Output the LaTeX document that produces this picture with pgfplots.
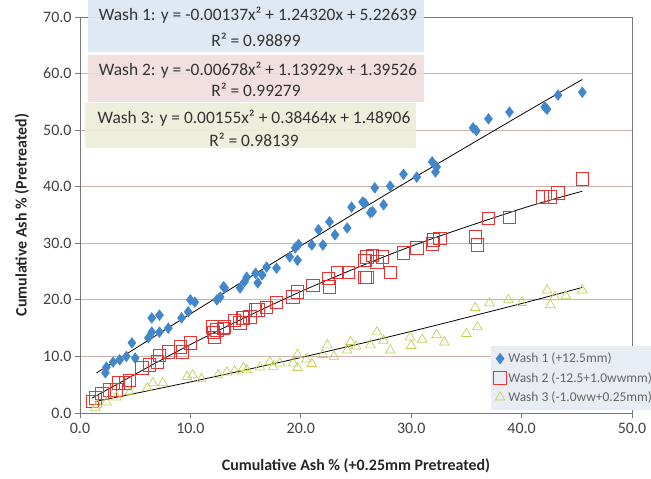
\documentclass[border=0pt]{standalone}
\usepackage{pgfplots}
\pgfplotsset{compat=1.18}
\usepackage{fontspec}
\setmainfont{Carlito}
\definecolor{wblue}{RGB}{66,134,204}
\definecolor{wred}{RGB}{228,52,52}
\definecolor{wgreen}{RGB}{196,206,84}
\definecolor{gridc}{RGB}{208,178,172}
\definecolor{frame}{RGB}{120,120,120}
\definecolor{tickc}{RGB}{64,64,64}
\definecolor{box1}{RGB}{219,231,242}
\definecolor{box2}{RGB}{241,221,221}
\definecolor{box3}{RGB}{235,237,216}
\definecolor{legbg}{RGB}{232,236,243}
\begin{document}
\begin{tikzpicture}
\path[use as bounding box] (-80bp,-66bp) rectangle (571bp,413bp);
\begin{axis}[
  name=ax,
  scale only axis,
  width=552bp, height=396bp,
  xmin=0, xmax=50, ymin=0, ymax=70,
  xtick={0,10,...,50}, ytick={0,10,...,70},
  ymajorgrids, grid style={gridc, line width=0.8pt},
  axis line style={frame, line width=0.8pt},
  tick align=outside, tick pos=left,
  major tick length=5bp,
  tick style={frame, line width=0.8pt},
  /pgf/number format/fixed,
  /pgf/number format/fixed zerofill,
  /pgf/number format/precision=1,
  /pgf/number format/assume math mode=true,
  ticklabel style={font=\fontsize{16}{18}\selectfont, text=tickc},
  xticklabel style={yshift=-2bp},
  xlabel={\textbf{Cumulative Ash \% (+0.25mm Pretreated)}},
  ylabel={\textbf{Cumulative Ash \% (Pretreated)}},
  label style={font=\fontsize{16}{18}\selectfont, text=black!85},
  xlabel style={at={(axis description cs:0.5,-0.134)}, anchor=center},
  ylabel style={at={(axis description cs:-0.105,0.5)}, anchor=center},
  legend style={at={(axis cs:37.2,0.5)}, anchor=south west, fill=legbg, draw=none,
    font=\fontsize{13.5}{15}\selectfont, text=black!60, row sep=4bp,
    inner xsep=3bp, inner ysep=5bp},
  legend cell align=left,
  legend image code/.code={\draw[#1] (0.12cm,0cm) -- plot coordinates {(0.12cm,0cm)};},
]
\addplot[only marks, mark=diamond*, mark size=5.4bp, color=wblue, mark options={fill=wblue, draw=wblue}] coordinates {
(2.3,7.1) (2.4,8.1) (3.0,9.0) (3.6,9.4) (4.2,10.0) (5.0,9.7) (4.7,12.4) (6.2,13.3)
(6.5,14.3) (6.5,16.8) (7.2,17.3) (7.2,14.3) (8.0,15.0) (9.2,16.8) (9.8,17.9) (10.4,19.6)
(10.0,20.0) (12.4,20.0) (12.7,20.5) (13.0,22.3) (13.1,22.1) (14.5,22.1) (14.9,23.2)
(15.1,24.0) (15.9,24.7) (16.1,23.0) (16.5,24.4) (16.9,25.8) (17.8,25.6) (19.0,27.6)
(19.5,29.2) (19.7,27.0) (19.8,29.8) (21.0,29.7) (21.6,32.4) (22.0,29.7) (22.6,33.8)
(23.1,31.5) (24.2,32.7) (24.6,36.4) (25.6,37.3) (25.8,37.1) (26.3,35.4) (26.5,35.6)
(26.7,39.8) (27.5,36.8) (28.1,40.1) (29.3,42.2) (30.5,41.7) (31.9,44.4) (32.2,42.6)
(32.3,43.5) (35.6,50.4) (35.9,49.9) (37.0,52.0) (38.9,53.2) (42.1,54.1) (42.3,53.7)
(43.3,56.2) (45.5,56.7)
};
\addlegendentry{Wash 1 (+12.5mm)}
\addplot[only marks, mark=square, mark size=6.2bp, color=wred, mark options={line width=0.8pt}] coordinates {
(1.1,2.0) (1.4,2.7) (2.0,3.5) (2.7,4.1) (3.3,4.1) (3.5,5.3) (4.1,5.3) (4.5,5.8)
(5.6,8.0) (6.3,8.5) (7.0,9.0) (7.2,10.2) (8.0,10.8) (9.3,10.8) (9.1,11.7) (10.0,12.4)
(12.2,13.4) (12.1,14.3) (13.0,15.0) (14.0,16.4) (14.8,16.8) (15.9,18.2) (12.4,14.7)
(12.0,15.2) (13.1,15.2) (14.5,15.9) (14.7,16.8) (15.4,17.0) (16.1,18.2) (16.9,18.7)
(17.8,19.6) (19.3,20.5) (19.7,21.4) (21.1,22.6) (22.5,23.8) (22.6,22.3) (23.3,24.9)
(24.3,24.9) (26.0,27.6) (26.0,24.0) (25.8,27.0) (25.8,24.0) (26.9,26.7) (26.5,27.9)
(27.4,27.6) (28.1,24.9) (29.3,28.3) (30.5,29.2) (31.9,29.9) (32.0,30.6) (32.6,30.9)
(36.0,29.7) (35.8,31.1) (37.0,34.4) (38.9,34.6) (41.9,38.2) (42.6,38.2) (43.3,38.9)
(45.5,41.4)
};
\addlegendentry{Wash 2 (-12.5+1.0wwmm)}
\addplot[only marks, mark=triangle, mark size=5.5bp, color=wgreen, mark options={line width=0.7pt}] coordinates {
(1.4,0.9) (1.6,1.4) (2.4,1.9) (3.3,2.8) (4.5,3.7) (6.1,4.4) (6.6,5.3) (7.5,5.3)
(9.7,6.4) (10.2,6.7) (11.0,6.0) (12.5,6.7) (13.3,7.2) (14.0,7.4) (14.8,8.0) (15.1,7.6)
(16.3,8.1) (17.2,9.0) (17.5,8.2) (18.1,8.8) (19.3,8.8) (19.7,8.0) (19.7,10.3)
(20.5,9.5) (21.0,8.7) (22.0,10.3) (22.4,12.0) (23.0,10.0) (24.2,11.1) (24.5,12.6)
(25.0,11.8) (26.3,12.0) (26.9,14.3) (27.5,12.8) (28.1,11.1) (29.9,13.4) (30.0,11.9)
(31.0,13.0) (32.3,13.8) (33.0,12.5) (35.0,14.0) (36.0,15.2) (35.8,18.6) (37.1,19.4)
(38.8,20.0) (40.0,19.5) (42.3,21.7) (42.6,19.1) (43.0,20.5) (44.0,20.7) (45.5,21.7)
};
\addlegendentry{Wash 3 (-1.0ww+0.25mm)}
\addplot[black, line width=0.8pt, smooth, forget plot] coordinates {
(1.5,7.088) (10,17.521) (20,29.542) (30,41.289) (40,52.762) (45.5,58.956)};
\addplot[black, line width=0.8pt, smooth, forget plot] coordinates {
(1.1,2.640) (10,12.110) (20,21.469) (30,29.472) (40,36.119) (45.5,39.197)};
\addplot[black, line width=0.8pt, smooth, forget plot] coordinates {
(1.4,2.031) (10,5.490) (20,9.802) (30,14.423) (40,19.355) (45.5,22.199)};
\end{axis}
\begin{scope}[font=\fontsize{17.5}{20}\selectfont, text=black!80]
\fill[box1, opacity=0.92] (8bp,361bp) rectangle (344bp,413bp);
\fill[box2, opacity=0.92] (8bp,311bp) rectangle (344bp,358bp);
\fill[box3, opacity=0.92] (5bp,265bp) rectangle (336bp,310bp);
\node at (178bp,398bp) {Wash 1: y = -0.00137x² + 1.24320x + 5.22639};
\node at (176bp,373bp) {R² = 0.98899};
\node at (178bp,343bp) {Wash 2: y = -0.00678x² + 1.13929x + 1.39526};
\node at (176bp,323bp) {R² = 0.99279};
\node at (174bp,295bp) {Wash 3: y = 0.00155x² + 0.38464x + 1.48906};
\node at (174bp,273bp) {R² = 0.98139};
\end{scope}
\end{tikzpicture}
\end{document}
